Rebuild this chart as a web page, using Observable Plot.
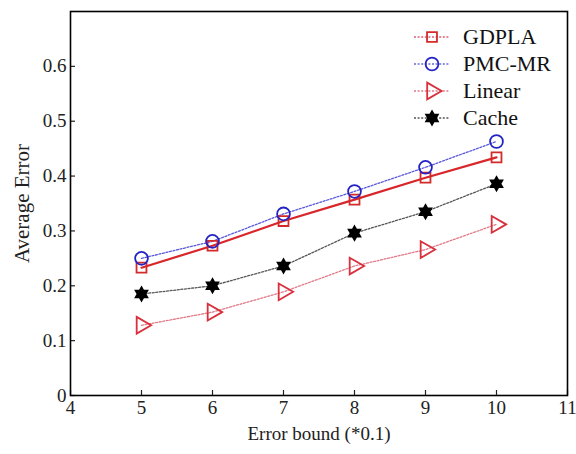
<!DOCTYPE html>
<html>
<head>
<meta charset="utf-8">
<script src="https://cdn.jsdelivr.net/npm/d3@7"></script>
<script src="https://cdn.jsdelivr.net/npm/@observablehq/plot@0.6"></script>
<style>
  html, body { margin: 0; padding: 0; background: #fff; }
  #wrap { position: relative; width: 576px; height: 454px; font-family: "Liberation Serif", "Times New Roman", "DejaVu Serif", serif; }
  #wrap svg text { font-family: "Liberation Serif", "Times New Roman", "DejaVu Serif", serif; }
  #legend { position: absolute; left: 414px; top: 23px; font-size: 22px; color: #111; }
  .row { display: flex; align-items: center; height: 27px; }
  .row svg { margin-right: 13px; }
</style>
</head>
<body>
<div id="wrap"></div>
<script>
// ---- data ----
const errorBound = [5, 6, 7, 8, 9, 10];
const gdpla  = [0.233, 0.273, 0.318, 0.357, 0.397, 0.434];
const pmcmr  = [0.250, 0.281, 0.331, 0.372, 0.416, 0.463];
const linear = [0.128, 0.152, 0.189, 0.236, 0.266, 0.312];
const cache  = [0.185, 0.200, 0.236, 0.296, 0.335, 0.386];
const seriesNames = ["GDPLA", "PMC-MR", "Linear", "Cache"];
const xTicks = [4, 5, 6, 7, 8, 9, 10, 11];
const yTicks = [0, 0.1, 0.2, 0.3, 0.4, 0.5, 0.6];

// custom six-pointed star symbol
const hexagram = {
  draw(ctx, size) {
    const R = Math.sqrt(size / Math.PI) * 1.05;
    const r = R / Math.sqrt(3);
    for (let i = 0; i < 12; i++) {
      const a = -Math.PI / 2 + i * Math.PI / 6;
      const rr = i % 2 === 0 ? R : r;
      const x = rr * Math.cos(a), y = rr * Math.sin(a);
      if (i === 0) ctx.moveTo(x, y); else ctx.lineTo(x, y);
    }
    ctx.closePath();
  }
};

const styles = {
  "GDPLA":  {line: "#d8262a", lw: 2.2, dash: null,  sym: "square",   mStroke: "#d32a2a", fill: "none", r: 5.6, rotate: 0},
  "PMC-MR": {line: "#5a5ad8", lw: 1.3, dash: "2,1.6", sym: "circle", mStroke: "#2424c4", fill: "none", r: 6.4, rotate: 0},
  "Linear": {line: "#e07a88", lw: 1.3, dash: "2,1.6", sym: "triangle", mStroke: "#d8303c", fill: "none", r: 6.2, rotate: 90},
  "Cache":  {line: "#555555", lw: 1.3, dash: "2,1.6", sym: hexagram, mStroke: "#000", fill: "#000", r: 6.4, rotate: 0}
};
const legendLine = {"GDPLA": "#e06070", "PMC-MR": "#6a6ad8", "Linear": "#e07a88", "Cache": "#555555"};

const valuesBy = {"GDPLA": gdpla, "PMC-MR": pmcmr, "Linear": linear, "Cache": cache};
const rows = seriesNames.flatMap(name => errorBound.map((x, i) => ({series: name, x, y: valuesBy[name][i]})));

const marks = [];
for (const name of seriesNames) {
  const s = styles[name];
  const data = rows.filter(d => d.series === name);
  marks.push(Plot.line(data, {x: "x", y: "y", stroke: s.line, strokeWidth: s.lw, strokeDasharray: s.dash}));
}
for (const name of seriesNames) {
  const s = styles[name];
  const data = rows.filter(d => d.series === name);
  marks.push(Plot.dot(data, {x: "x", y: "y", symbol: () => s.sym, r: s.r, stroke: s.mStroke, strokeWidth: 1.8, fill: s.fill, rotate: s.rotate}));
}

const serif = "Liberation Serif, Times New Roman, DejaVu Serif, serif";
const chart = Plot.plot({
  width: 576,
  height: 454,
  marginLeft: 70,
  marginRight: 9,
  marginTop: 11,
  marginBottom: 59,
  style: {fontFamily: serif, background: "#fff", color: "#222"},
  x: {domain: [4, 11], label: null},
  y: {domain: [0, 0.7], label: null},
  symbol: {type: "identity"},
  marks: [
    ...marks,
    Plot.axisX({ticks: xTicks, tickSize: 0, tickPadding: 5, fontSize: 19, tickFormat: d => String(d)}),
    Plot.axisX({ticks: xTicks, tickSize: -5, text: null, strokeWidth: 1.2}),
    Plot.axisY({ticks: yTicks, tickSize: 0, tickPadding: 4, fontSize: 19, tickFormat: d => d === 0 ? "0" : d3.format(".1f")(d)}),
    Plot.axisY({ticks: yTicks, tickSize: -5, text: null, strokeWidth: 1.2}),
    Plot.frame({stroke: "#000", strokeWidth: 1.6}),
    Plot.text(["Error bound (*0.1)"], {text: d => d, frameAnchor: "bottom", textAnchor: "middle", dy: 44, fontSize: 19, fill: "#222"}),
    Plot.text(["Average Error"], {text: d => d, frameAnchor: "left", textAnchor: "middle", dx: -48, rotate: -90, fontSize: 21, fill: "#222"})
  ]
});

const wrap = document.getElementById("wrap");
wrap.appendChild(chart);

// legend overlay
const legend = document.createElement("div");
legend.id = "legend";
for (const name of seriesNames) {
  const s = styles[name];
  const row = document.createElement("div");
  row.className = "row";
  const svg = d3.create("svg").attr("width", 36).attr("height", 24);
  svg.append("line").attr("x1", 0).attr("x2", 36).attr("y1", 12).attr("y2", 12)
    .attr("stroke", legendLine[name]).attr("stroke-width", 1.3).attr("stroke-dasharray", "2,1.6");
  const size = Math.PI * s.r * s.r;
  const type = typeof s.sym === "string" ? {square: d3.symbolSquare, circle: d3.symbolCircle, triangle: d3.symbolTriangle}[s.sym] : s.sym;
  svg.append("path").attr("d", d3.symbol(type, size)())
    .attr("transform", `translate(18,12) rotate(${s.rotate})`)
    .attr("fill", s.fill).attr("stroke", s.mStroke).attr("stroke-width", 1.8);
  row.appendChild(svg.node());
  const t = document.createElement("span");
  t.textContent = name;
  row.appendChild(t);
  legend.appendChild(row);
}
wrap.appendChild(legend);
</script>
</body>
</html>
